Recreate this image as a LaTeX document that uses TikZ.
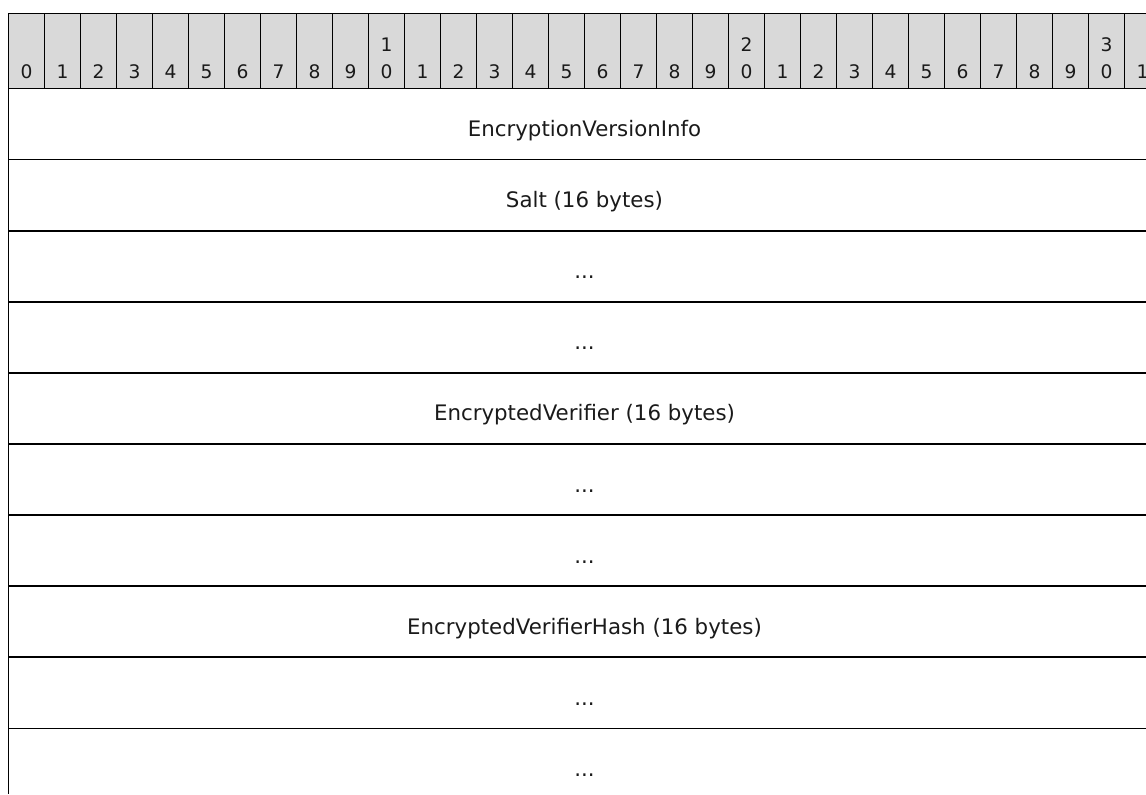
\documentclass[tikz,border=0pt]{standalone}
\usepackage{fontspec}
\setmainfont{DejaVu Sans}
\usetikzlibrary{positioning}
\definecolor{headgray}{HTML}{D9D9D9}
\definecolor{inkgray}{HTML}{1A1A1A}

\begin{document}
\begin{tikzpicture}[x=0.75pt,y=-0.75pt,
    every node/.style={text=inkgray,inner sep=0pt},
    bit/.style={anchor=base,font=\fontsize{14}{16}\selectfont},
    field/.style={anchor=base,font=\fontsize{16}{19}\selectfont},
    hcell/.style={draw,fill=headgray,line width=0.8pt},
    rule/.style={line width=1.3pt}
]
\useasboundingbox (0,0) rectangle (1146,794);
\clip (0,0) rectangle (1146,794);

% header with bit numbers
\foreach \i in {0,...,31} {
  \pgfmathtruncatemacro{\lo}{mod(\i,10)}
  \pgfmathtruncatemacro{\hi}{div(\i,10)}
  \draw[hcell] ({8.5+36*\i},13.5) rectangle ({8.5+36*(\i+1)},88.5);
  \node[bit] (b\i) at ({26.5+36*\i},78) {\lo};
  \ifnum\lo=0 \ifnum\i>0 \node[bit] (t\i) at ({26.5+36*\i},51.5) {\hi}; \fi\fi
}

% field rows
\foreach \k in {0,...,9}
  \draw[rule] (8.5,{88.5+71.1*\k}) -- (1146,{88.5+71.1*\k});
\draw[rule] (8.5,13) -- (8.5,794);

\node[field] (verinfo) at (584.5,136.5) {EncryptionVersionInfo};
\node[field] (salt)    at (584.5,207.6) {Salt (16 bytes)};
\node[field] (salta)   at (584.5,278.7) {...};
\node[field] (saltb)   at (584.5,349.8) {...};
\node[field] (ver)     at (584.5,420.9) {EncryptedVerifier (16 bytes)};
\node[field] (vera)    at (584.5,492.0) {...};
\node[field] (verb)    at (584.5,563.1) {...};
\node[field] (hash)    at (584.5,634.2) {EncryptedVerifierHash (16 bytes)};
\node[field] (hasha)   at (584.5,705.3) {...};
\node[field] (hashb)   at (584.5,776.4) {...};
\end{tikzpicture}
\end{document}
